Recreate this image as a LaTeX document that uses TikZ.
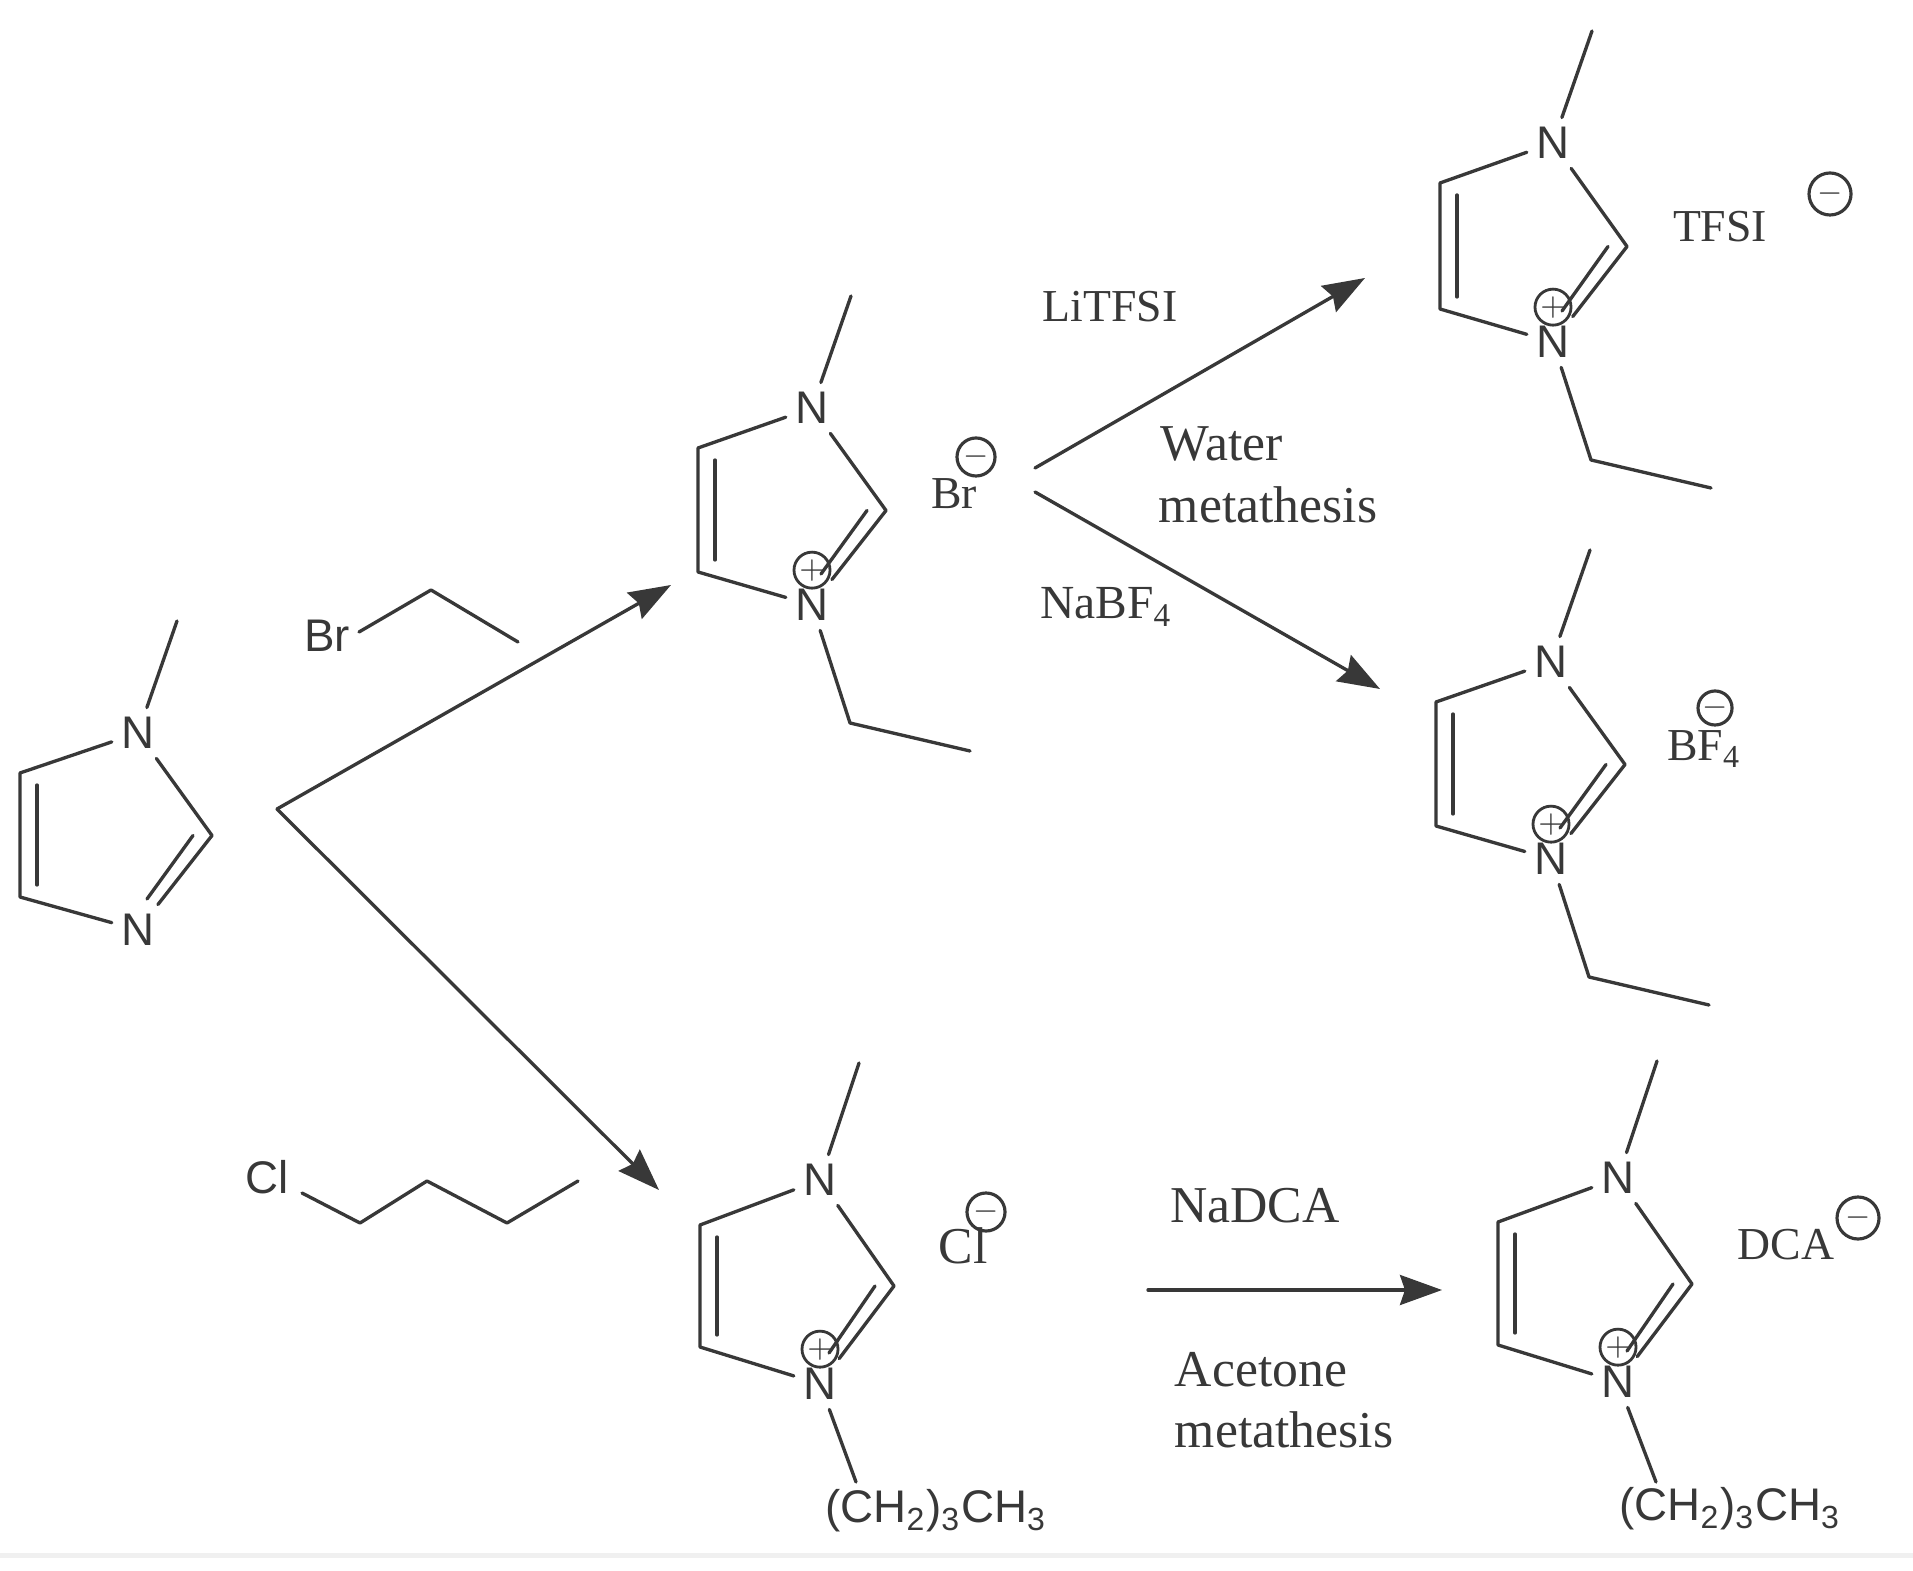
\documentclass[tikz,border=0pt]{standalone}
\usepackage{fontspec}
\setmainfont{Liberation Serif}
\setsansfont{Liberation Sans}
\usetikzlibrary{arrows.meta, positioning}
\definecolor{bondgray}{gray}{0.22}
\tikzset{
    bond/.style={draw=bondgray, line width=0.95pt, line cap=round, line join=round},
    rxnarrow/.style={bond, -{Stealth[length=0.42cm,width=0.3cm,inset=0.05cm]}},
    atom/.style={inner sep=0.09cm, text=bondgray, font=\sffamily\fontsize{13}{15}\selectfont},
    labelA/.style={inner sep=0pt, text=bondgray, font=\fontsize{13}{15}\selectfont},
    labelB/.style={inner sep=0pt, text=bondgray, font=\fontsize{14.7}{17}\selectfont},
    pluscharge/.style={circle, draw=bondgray, line width=0.8pt, inner sep=0pt, minimum size=0.36cm, text=bondgray, font=\small},
    minuscharge/.style={circle, draw=bondgray, line width=0.9pt, inner sep=0pt, minimum size=0.38cm, text=bondgray, font=\small},
}
\begin{document}
\begin{tikzpicture}[x=0.01cm, y=-0.01cm]
    \useasboundingbox (0,0) rectangle (1913,1571);
    \fill[black!6] (0,1553) rectangle (1913,1558);

    % six rings, the starting one has no charge
    \foreach \nm/\x/\y/\w/\h/\m/\u/\l in {S/138/733/118/197/112/40/33, A/812/408/114/197/112/40/33, B/1553/143/113/199/112/40/33, C/1551/662/115/197/112/40/33, D/820/1180/120/204/117/45/37, E/1618/1178/120/204/117/44/37} {
        \begin{scope}[shift={(\x,\y)}]
            \node[atom] (\nm-top) at (0,0) {N};
            \node[atom] (\nm-bot) at (0,\h) {N};
            \coordinate (\nm-me) at (39,-\m);
            \coordinate (\nm-ul) at (-\w,\u);
            \coordinate (\nm-ll) at (-\w,\h-\l);
            \coordinate (\nm-r) at (74,\h/2+4);
            \draw[bond] (\nm-me) -- (\nm-top);
            \draw[bond] (\nm-top) -- (\nm-ul) -- (\nm-ll) -- (\nm-bot);
            \draw[bond] (\nm-top) -- (\nm-r) -- (\nm-bot);
            % inner lines of the double bonds
            \coordinate (\nm-in1) at (-\w+17,\u+12);
            \coordinate (\nm-in2) at (-\w+17,\h-\l-12);
            \coordinate (\nm-in3) at (55,\h/2+4);
            \coordinate (\nm-in4) at (9,\h-31);
            \draw[bond] (\nm-in1) -- (\nm-in2);
            \draw[bond] (\nm-in3) -- (\nm-in4);
        \end{scope}
    }
    \foreach \nm in {A,B,C,D,E} {
        \node[pluscharge, above=0pt of \nm-bot.north, yshift=-0.1cm] (\nm-plus) {$+$};
    }

    % ethyl tails
    \foreach \nm/\x/\y in {A/812/605, B/1553/342, C/1551/859} {
        \coordinate (\nm-e1) at (\x+38,\y+118);
        \coordinate (\nm-e2) at (\x+158,\y+146);
        \draw[bond] (\nm-bot) -- (\nm-e1) -- (\nm-e2);
    }

    % butyl tails
    \node[atom, inner sep=0pt] (D-bu) at (936,1511) {(CH\textsubscript{2})\textsubscript{3}CH\textsubscript{3}};
    \node[atom, inner sep=0pt] (E-bu) at (1730,1509) {(CH\textsubscript{2})\textsubscript{3}CH\textsubscript{3}};
    \coordinate (D-tail) at (856,1482);
    \coordinate (E-tail) at (1656,1482);
    \draw[bond] (D-bot) -- (D-tail);
    \draw[bond] (E-bot) -- (E-tail);

    % anions
    \node[labelA] (brion) at (954,494) {Br};
    \node[minuscharge] (brminus) at (976,457) {$-$};
    \node[labelA] (tfsi) at (1720,227) {TFSI};
    \node[minuscharge, minimum size=0.42cm] (tfsiminus) at (1830,194) {$-$};
    \node[labelA] (bfion) at (1704,749) {BF\textsubscript{4}};
    \node[minuscharge, minimum size=0.34cm] (bfminus) at (1715,708) {$-$};
    \node[labelB] (clion) at (963,1246) {Cl};
    \node[minuscharge] (clminus) at (986,1212) {$-$};
    \node[labelA] (dca) at (1786,1245) {DCA};
    \node[minuscharge, minimum size=0.42cm] (dcaminus) at (1858,1218) {$-$};

    % alkyl halides
    \node[atom, inner sep=0pt] (brhal) at (327,636) {Br};
    \coordinate (br1) at (359,632);
    \coordinate (br2) at (431,590);
    \coordinate (br3) at (518,642);
    \draw[bond] (br1) -- (br2) -- (br3);
    \node[atom, inner sep=0pt] (clhal) at (267,1177) {Cl};
    \coordinate (cl1) at (302,1193);
    \coordinate (cl2) at (360,1223);
    \coordinate (cl3) at (427,1181);
    \coordinate (cl4) at (507,1223);
    \coordinate (cl5) at (578,1181);
    \draw[bond] (cl1) -- (cl2) -- (cl3) -- (cl4) -- (cl5);

    % reaction arrows
    \coordinate (fork1) at (277,809);
    \coordinate (tipA) at (671,585);
    \coordinate (tipD) at (659,1190);
    \draw[rxnarrow] (fork1) -- (tipA);
    \draw[rxnarrow] (fork1) -- (tipD);
    \coordinate (startB) at (1035,468);
    \coordinate (tipB) at (1365,278);
    \coordinate (startC) at (1035,492);
    \coordinate (tipC) at (1380,689);
    \draw[rxnarrow] (startB) -- (tipB);
    \draw[rxnarrow] (startC) -- (tipC);
    \coordinate (startE) at (1148,1290);
    \coordinate (tipE) at (1442,1290);
    \draw[rxnarrow] (startE) -- (tipE);

    % arrow labels
    \node[labelA] (litfsi) at (1110,307) {LiTFSI};
    \node[labelB] (water) at (1222,444) {Water};
    \node[labelB] (meta1) at (1268,505) {metathesis};
    \node[labelA, font=\fontsize{13.5}{15}\selectfont] (nabf) at (1106,607) {NaBF\textsubscript{4}};
    \node[labelB] (nadca) at (1255,1206) {NaDCA};
    \node[labelB] (acetone) at (1261,1370) {Acetone};
    \node[labelB] (meta2) at (1284,1430) {metathesis};
\end{tikzpicture}
\end{document}
